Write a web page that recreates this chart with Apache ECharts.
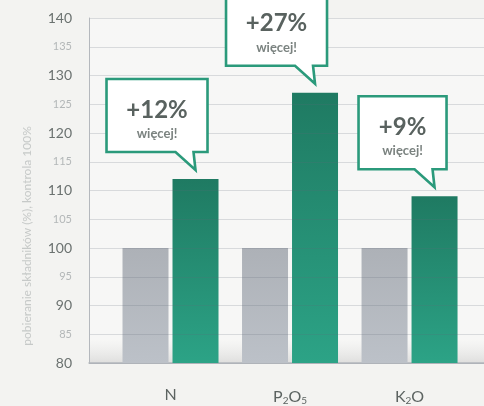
<!DOCTYPE html>
<html>
<head>
<meta charset="utf-8">
<script src="https://cdn.jsdelivr.net/npm/echarts@6/dist/echarts.min.js"></script>
<style>
  html, body { margin: 0; padding: 0; background: #f3f3f1; }
  #chart { width: 484px; height: 406px; }
</style>
</head>
<body>
<div id="chart"></div>
<script>
// Nutrient uptake relative to the control (control = 100%)
const categories = ['N', 'P2O5', 'K2O'];
const controlValues = [100, 100, 100];
const treatedValues = [112, 127, 109];
const gainLabels = ['+12%', '+27%', '+9%'];
const gainNote = 'więcej!';
const yMin = 80, yMax = 140, yStep = 5;
const axisName = 'pobieranie składników (%), kontrola 100%';

const FONT = 'Lato, "Open Sans", sans-serif';
const BAR_W = 46, BAR_GAP = 4;
const GREEN_SHIFT = (BAR_W + BAR_GAP) / 2;

const measureCtx = document.createElement('canvas').getContext('2d');
function textWidth(str, font) { measureCtx.font = font; return measureCtx.measureText(str).width; }

function chem(name) {
  return name.replace(/([A-Za-z]+)(\d?)/g, (m, a, d) => '{n|' + a + '}' + (d ? '{s|' + d + '}' : ''));
}

const chart = echarts.init(document.getElementById('chart'), null, { renderer: 'canvas' });

const calloutData = categories.map((c, i) => [i, treatedValues[i]]);

function renderCallout(params, api) {
  const p = api.coord([api.value(0), api.value(1)]);
  const label = gainLabels[params.dataIndex];
  const bigFont = 'bold 24px ' + FONT;
  const tipX = p[0] + GREEN_SHIFT;
  const tipY = p[1] - 9;
  const w = Math.round(textWidth(label, bigFont)) + 40;
  const h = 73;
  const r = tipX + 12, b = tipY - 18, l = r - w, t = b - h;
  const cx = (l + r) / 2;
  return {
    type: 'group',
    children: [
      {
        type: 'polygon',
        shape: { points: [[l, t], [r, t], [r, b], [tipX - 2, b], [tipX, tipY], [tipX - 20, b], [l, b]] },
        style: { fill: '#ffffff', stroke: '#2b9a7b', lineWidth: 2.6, lineJoin: 'miter' }
      },
      {
        type: 'text',
        style: { text: label, x: cx, y: t + 31, align: 'center', verticalAlign: 'middle',
                 font: bigFont, fill: '#59625f' }
      },
      {
        type: 'text',
        style: { text: gainNote, x: cx, y: t + 55, align: 'center', verticalAlign: 'middle',
                 font: 'bold 13px ' + FONT, fill: '#7b8380' }
      }
    ]
  };
}

const option = {
  backgroundColor: '#f3f3f1',
  animation: false,
  grid: {
    left: 89, right: 0, top: 18, bottom: 43,
    outerBoundsMode: 'none',
    containLabel: false,
    show: true, borderWidth: 0,
    backgroundColor: new echarts.graphic.LinearGradient(0, 0, 0, 1, [
      { offset: 0, color: 'rgba(255,255,255,0.35)' },
      { offset: 0.93, color: 'rgba(255,255,255,0.35)' },
      { offset: 1, color: 'rgba(205,205,205,0.55)' }
    ])
  },
  graphic: [
    {
      type: 'text',
      x: 27, y: 236,
      rotation: Math.PI / 2,
      silent: true,
      style: {
        text: axisName, align: 'center', verticalAlign: 'middle',
        font: '12px ' + FONT, fill: '#c6c9c8'
      }
    }
  ],
  xAxis: {
    type: 'value',
    min: -0.682, max: 2.623,
    splitLine: { show: false },
    axisTick: { show: false },
    axisLine: { show: true, onZero: false, lineStyle: { color: '#b4b8bd', width: 1.5 } },
    axisLabel: {
      customValues: [0, 1, 2],
      margin: 24,
      formatter: v => chem(categories[Math.round(v)] || ''),
      rich: {
        n: { fontFamily: FONT, fontSize: 16, color: '#5c6361' },
        s: { fontFamily: FONT, fontSize: 10, color: '#5c6361', padding: [9, 0, 0, 0] }
      }
    }
  },
  yAxis: {
    type: 'value',
    min: yMin, max: yMax, interval: yStep,
    z: 3,
    axisLine: { show: true, onZero: false, lineStyle: { color: '#b4b8bd', width: 1 } },
    axisTick: { show: false },
    splitLine: { show: true, lineStyle: { color: 'rgba(95,105,120,0.2)', width: 1 } },
    axisLabel: {
      margin: 17,
      formatter: v => (v % 10 === 0 ? '{major|' + v + '}' : '{minor|' + v + '}'),
      rich: {
        major: { fontFamily: FONT, fontSize: 14, color: '#6b7270' },
        minor: { fontFamily: FONT, fontSize: 11, color: '#b3b7b8' }
      }
    }
  },
  series: [
    {
      name: 'kontrola',
      type: 'bar',
      barWidth: BAR_W,
      barGap: (BAR_GAP / BAR_W * 100).toFixed(1) + '%',
      data: controlValues.map((v, i) => [i, v]),
      itemStyle: {
        color: new echarts.graphic.LinearGradient(0, 0, 0, 1, [
          { offset: 0, color: '#adb1b7' },
          { offset: 1, color: '#bcc1c8' }
        ])
      }
    },
    {
      name: 'nawożenie',
      type: 'bar',
      barWidth: BAR_W,
      data: treatedValues.map((v, i) => [i, v]),
      itemStyle: {
        color: new echarts.graphic.LinearGradient(0, 0, 0, 1, [
          { offset: 0, color: '#1f7a62' },
          { offset: 1, color: '#2ca386' }
        ])
      }
    },
    {
      name: 'przyrost',
      type: 'custom',
      z: 10,
      clip: false,
      silent: true,
      renderItem: renderCallout,
      data: calloutData
    }
  ]
};

chart.setOption(option);
</script>
</body>
</html>
